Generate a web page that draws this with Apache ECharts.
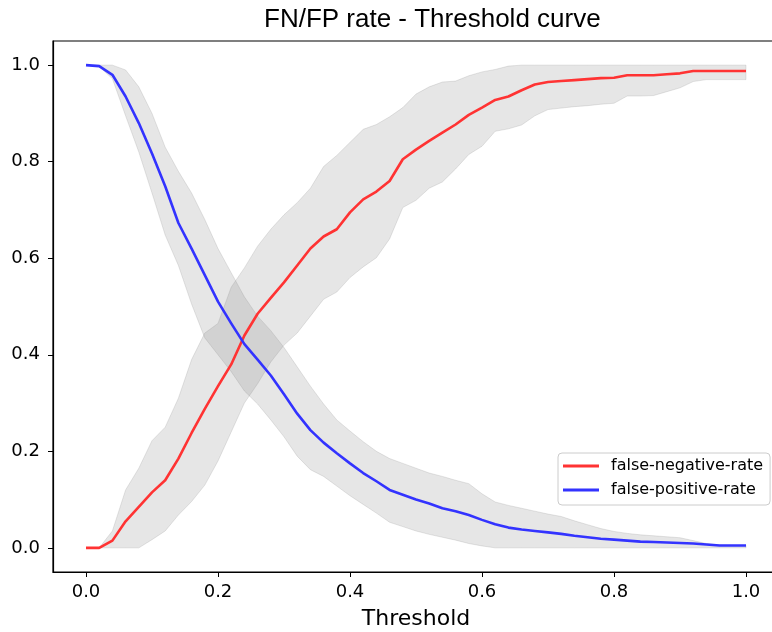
<!DOCTYPE html>
<html>
<head>
<meta charset="utf-8">
<script src="https://cdn.jsdelivr.net/npm/echarts@6/dist/echarts.min.js"></script>
<style>
  html, body { margin: 0; padding: 0; background: #fff; }
  #chart { width: 772px; height: 632px; }
</style>
</head>
<body>
<div id="chart"></div>
<script>
// threshold grid shared by every curve
const thresholds = [
  0.00, 0.02, 0.04, 0.06, 0.08, 0.10, 0.12, 0.14, 0.16, 0.18,
  0.20, 0.22, 0.24, 0.26, 0.28, 0.30, 0.32, 0.34, 0.36, 0.38,
  0.40, 0.42, 0.44, 0.46, 0.48, 0.50, 0.52, 0.54, 0.56, 0.58,
  0.60, 0.62, 0.64, 0.66, 0.68, 0.70, 0.72, 0.74, 0.76, 0.78,
  0.80, 0.82, 0.84, 0.86, 0.88, 0.90, 0.92, 0.94, 0.96, 0.98, 1.00
]

const fnRate = [
  0.000, 0.000, 0.015, 0.055, 0.085, 0.115, 0.140, 0.185, 0.238, 0.288,
  0.335, 0.380, 0.440, 0.485, 0.518, 0.550, 0.585, 0.620, 0.645, 0.660,
  0.695, 0.722, 0.738, 0.760, 0.805, 0.825, 0.843, 0.860, 0.877, 0.897,
  0.912, 0.928, 0.935, 0.948, 0.960, 0.965, 0.967, 0.969, 0.971, 0.973,
  0.974, 0.979, 0.979, 0.979, 0.981, 0.983, 0.988, 0.988, 0.988, 0.988, 0.988
]
const fnHigh = [
  0.000, 0.000, 0.035, 0.120, 0.165, 0.222, 0.250, 0.310, 0.390, 0.445,
  0.465, 0.540, 0.580, 0.625, 0.660, 0.690, 0.715, 0.745, 0.790, 0.813,
  0.840, 0.867, 0.877, 0.893, 0.912, 0.940, 0.955, 0.965, 0.967, 0.978,
  0.986, 0.991, 0.998, 1.000, 1.000, 1.000, 1.000, 1.000, 1.000, 1.000,
  1.000, 1.000, 1.000, 1.000, 1.000, 1.000, 1.000, 1.000, 1.000, 1.000, 1.000
]
const fnLow = [
  0.000, 0.000, 0.000, 0.000, 0.000, 0.017, 0.035, 0.068, 0.096, 0.130,
  0.180, 0.240, 0.300, 0.340, 0.385, 0.420, 0.445, 0.480, 0.515, 0.530,
  0.560, 0.582, 0.601, 0.640, 0.705, 0.720, 0.745, 0.758, 0.785, 0.815,
  0.832, 0.863, 0.868, 0.876, 0.895, 0.908, 0.911, 0.914, 0.916, 0.919,
  0.921, 0.936, 0.936, 0.937, 0.945, 0.953, 0.966, 0.970, 0.970, 0.970, 0.970
]

const fpRate = [
  1.000, 0.998, 0.980, 0.935, 0.880, 0.817, 0.749, 0.673, 0.620, 0.565,
  0.510, 0.465, 0.422, 0.390, 0.357, 0.318, 0.278, 0.244, 0.218, 0.196,
  0.175, 0.155, 0.138, 0.120, 0.110, 0.100, 0.092, 0.082, 0.076, 0.068,
  0.058, 0.049, 0.042, 0.038, 0.035, 0.032, 0.029, 0.025, 0.022, 0.019,
  0.017, 0.015, 0.013, 0.012, 0.011, 0.010, 0.009, 0.007, 0.005, 0.005, 0.005
]
const fpHigh = [
  1.000, 1.000, 1.000, 0.990, 0.955, 0.900, 0.830, 0.780, 0.735, 0.680,
  0.620, 0.570, 0.520, 0.480, 0.450, 0.415, 0.375, 0.335, 0.298, 0.265,
  0.242, 0.220, 0.200, 0.185, 0.175, 0.165, 0.155, 0.148, 0.140, 0.133,
  0.112, 0.095, 0.088, 0.082, 0.076, 0.070, 0.065, 0.056, 0.048, 0.040,
  0.034, 0.030, 0.027, 0.025, 0.023, 0.021, 0.015, 0.009, 0.006, 0.005, 0.005
]
const fpLow = [
  1.000, 0.997, 0.972, 0.895, 0.820, 0.735, 0.648, 0.585, 0.505, 0.435,
  0.400, 0.365, 0.325, 0.298, 0.265, 0.230, 0.190, 0.162, 0.148, 0.128,
  0.108, 0.090, 0.072, 0.053, 0.044, 0.035, 0.028, 0.022, 0.016, 0.009,
  0.004, 0.000, 0.000, 0.000, 0.000, 0.000, 0.000, 0.000, 0.000, 0.000,
  0.000, 0.000, 0.000, 0.000, 0.000, 0.000, 0.000, 0.000, 0.000, 0.000, 0.000
]

const xTicks = [0, 0.2, 0.4, 0.6, 0.8, 1.0]
const yTicks = [0, 0.2, 0.4, 0.6, 0.8, 1.0]

const bandFill = 'rgba(128,128,128,0.2)'
const tickFont = 'DejaVu Sans'

function pairs(ys) {
  return thresholds.map((t, i) => [t, ys[i]])
}

// one polygon per band: upper edge left->right, lower edge back
function band(name, lo, hi) {
  return {
    name: name,
    type: 'custom',
    silent: true,
    data: [[thresholds[0], lo[0]]],
    renderItem: function(params, api) {
      const pts = []
      for (let i = 0; i < thresholds.length; i++) {
        pts.push(api.coord([thresholds[i], hi[i]]))
      }
      for (let i = thresholds.length - 1; i >= 0; i--) {
        pts.push(api.coord([thresholds[i], lo[i]]))
      }
      return {
        type: 'polygon',
        shape: { points: pts },
        style: { fill: bandFill, stroke: bandFill, lineWidth: 1 }
      }
    }
  }
}

const chart = echarts.init(document.getElementById('chart'), null, { renderer: 'canvas' })

const option = {
  animation: false,
  backgroundColor: '#fff',
  title: {
    text: 'FN/FP rate - Threshold curve',
    left: 264,
    top: 7,
    padding: 0,
    textStyle: { fontFamily: 'Liberation Sans', fontSize: 26, fontWeight: 'normal', color: '#000' }
  },
  legend: {
    orient: 'vertical',
    left: 558,
    top: 453,
    data: ['false-negative-rate', 'false-positive-rate'],
    icon: 'rect',
    itemWidth: 36,
    itemHeight: 3,
    itemGap: 8,
    padding: [5, 7, 7, 5],
    backgroundColor: 'rgba(255,255,255,0.8)',
    borderColor: '#cccccc',
    borderWidth: 1,
    borderRadius: 4,
    textStyle: { fontFamily: tickFont, fontSize: 16, color: '#000', padding: [0, 0, 0, 7] }
  },
  grid: {
    show: true,
    left: 53,
    top: 41,
    right: -7,
    bottom: 60,
    containLabel: false,
    outerBoundsMode: 'none',
    borderColor: '#000',
    borderWidth: 1.2,
    backgroundColor: 'transparent'
  },
  xAxis: {
    type: 'value',
    min: -0.05,
    max: 1.05,
    name: 'Threshold',
    nameLocation: 'middle',
    nameGap: 36,
    nameTextStyle: { fontFamily: tickFont, fontSize: 22, color: '#000' },
    splitLine: { show: false },
    axisLine: { show: true, onZero: false, lineStyle: { color: '#000', width: 1.2 } },
    axisTick: { show: true, length: 5, customValues: xTicks, lineStyle: { color: '#000' } },
    axisLabel: {
      customValues: xTicks, margin: 11,
      fontFamily: tickFont, fontSize: 18, color: '#000',
      formatter: v => v.toFixed(1)
    }
  },
  yAxis: {
    type: 'value',
    min: -0.05,
    max: 1.05,
    splitLine: { show: false },
    axisLine: { show: true, onZero: false, lineStyle: { color: '#000', width: 1.2 } },
    axisTick: { show: true, length: 5, customValues: yTicks, lineStyle: { color: '#000' } },
    axisLabel: {
      customValues: yTicks, margin: 13,
      fontFamily: tickFont, fontSize: 18, color: '#000',
      formatter: v => v.toFixed(1)
    }
  },
  series: [
    band('fn-band', fnLow, fnHigh),
    band('fp-band', fpLow, fpHigh),
    {
      name: 'false-negative-rate', type: 'line', data: pairs(fnRate),
      symbol: 'none', color: '#ff3333',
      lineStyle: { color: '#ff3333', width: 2.6, join: 'round' }
    },
    {
      name: 'false-positive-rate', type: 'line', data: pairs(fpRate),
      symbol: 'none', color: '#3333ff',
      lineStyle: { color: '#3333ff', width: 2.6, join: 'round' }
    }
  ]
}

chart.setOption(option)
</script>
</body>
</html>
